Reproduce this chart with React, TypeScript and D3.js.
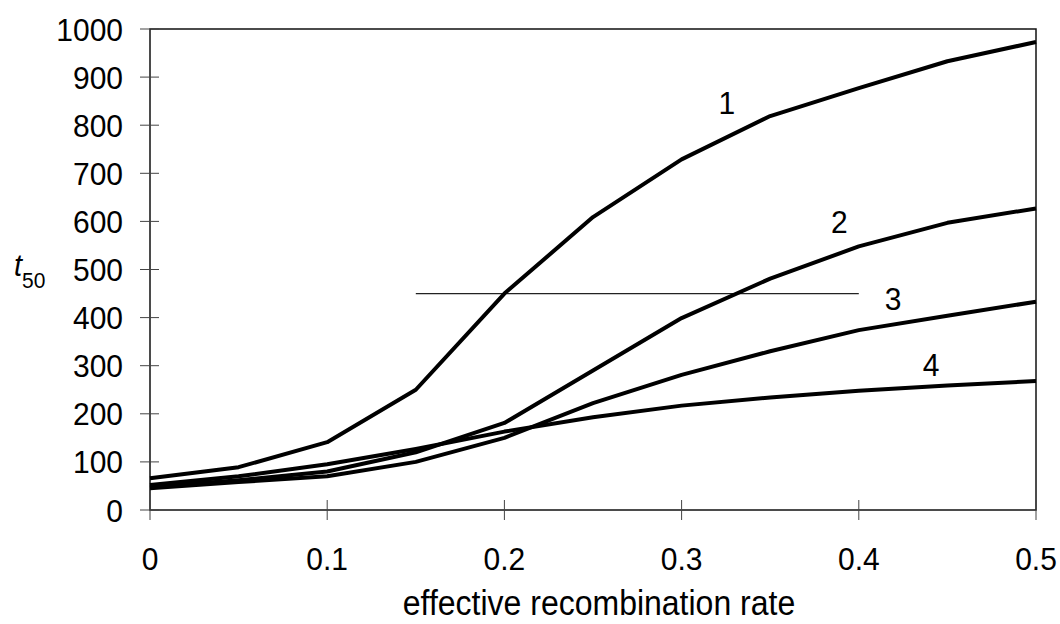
import React from "react";
import * as d3 from "d3";

const xValues = [0, 0.05, 0.1, 0.15, 0.2, 0.25, 0.3, 0.35, 0.4, 0.45, 0.5];
const series1 = [66, 89, 141, 250, 450, 609, 729, 819, 877, 933, 973];
const series2 = [48, 62, 80, 120, 181, 290, 399, 481, 548, 597, 627];
const series3 = [45, 58, 70, 100, 150, 222, 281, 330, 374, 404, 433];
const series4 = [52, 70, 95, 127, 163, 193, 217, 234, 248, 259, 268];
const seriesLabels = ["1", "2", "3", "4"];
const labelX = [0.3256, 0.389, 0.4193, 0.4408];
const labelY = [823, 576, 416, 279];
const refLine = { x0: 0.15, x1: 0.4, y: 450 };
const yTicks = [0, 100, 200, 300, 400, 500, 600, 700, 800, 900, 1000];
const xTicks = [0, 0.1, 0.2, 0.3, 0.4, 0.5];
const xTickLabels = ["0", "0.1", "0.2", "0.3", "0.4", "0.5"];

const W = 1060;
const H = 624;
const left = 150, right = 1036, top = 29, bottom = 510;
const SY = 1.07;

function T(props: { x: number; y: number; size: number; anchor?: string; children: React.ReactNode; dy?: string }) {
  return (
    <text
      transform={`translate(${props.x},${props.y}) scale(1,${SY})`}
      textAnchor={props.anchor || "start"}
      fontSize={props.size}
      dy={props.dy}
      fill="#000"
    >
      {props.children}
    </text>
  );
}

export default function App() {
  const x = d3.scaleLinear().domain([0, 0.5]).range([left, right]);
  const y = d3.scaleLinear().domain([0, 1000]).range([bottom, top]);
  const line = d3
    .line<number>()
    .x((_, i) => x(xValues[i]))
    .y((d) => y(d));
  const all = [series1, series2, series3, series4];
  const font = "'Liberation Sans', Arial, sans-serif";
  return (
    <svg
      width={W}
      height={H}
      style={{ position: "absolute", left: 0, top: 0, background: "#fff" }}
      fontFamily={font}
    >
      <rect x={0} y={0} width={W} height={H} fill="#fff" />
      <rect
        x={left}
        y={top}
        width={right - left}
        height={bottom - top}
        fill="none"
        stroke="#111"
        strokeWidth={1.5}
      />
      {yTicks.map((t) => (
        <g key={"y" + t}>
          <line x1={left - 10} x2={left + 9} y1={y(t)} y2={y(t)} stroke="#444" strokeWidth={1} />
          <T x={123} y={y(t)} size={30} anchor="end" dy="0.36em">
            {t}
          </T>
        </g>
      ))}
      {xTicks.map((t, i) => (
        <g key={"x" + t}>
          <line x1={x(t)} x2={x(t)} y1={bottom - 10} y2={bottom + 10} stroke="#444" strokeWidth={1} />
          <T x={x(t)} y={570} size={30} anchor="middle">
            {xTickLabels[i]}
          </T>
        </g>
      ))}
      <line
        x1={x(refLine.x0)}
        x2={x(refLine.x1)}
        y1={y(refLine.y)}
        y2={y(refLine.y)}
        stroke="#222"
        strokeWidth={1.2}
      />
      {all.map((s, i) => (
        <path key={"s" + i} d={line(s) || ""} fill="none" stroke="#000" strokeWidth={4} strokeLinejoin="round" />
      ))}
      {seriesLabels.map((l, i) => (
        <T key={"l" + l} x={x(labelX[i])} y={y(labelY[i])} size={30} anchor="middle">
          {l}
        </T>
      ))}
      <T x={599} y={615} size={32} anchor="middle">
        effective recombination rate
      </T>
      <text transform={`translate(14,276) scale(1,${SY})`} fontSize={29} fill="#000">
        <tspan fontStyle="italic">t</tspan>
        <tspan fontSize={21} dy={11}>50</tspan>
      </text>
    </svg>
  );
}
